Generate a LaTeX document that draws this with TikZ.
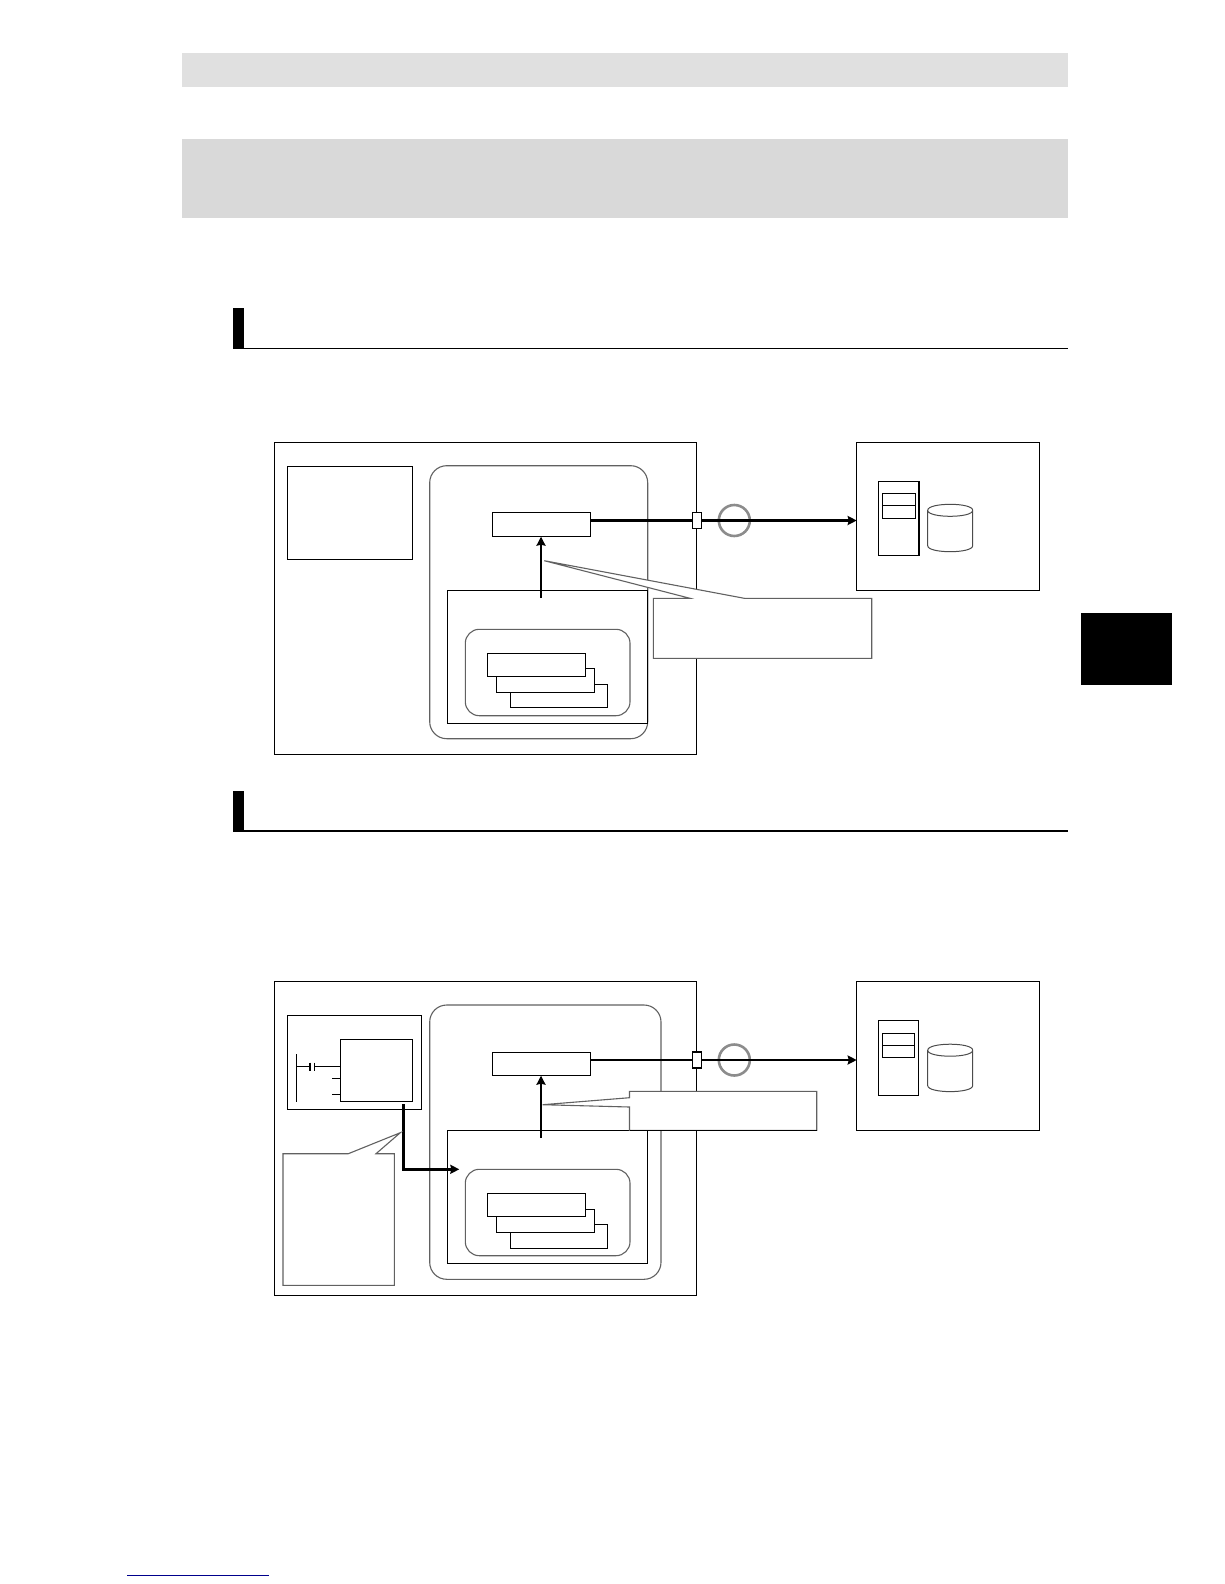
\documentclass[tikz,border=0pt]{standalone}
\usepackage{tikz}
\usetikzlibrary{arrows.meta}

\tikzset{
  plain box/.style={rectangle,draw,fill=white,inner sep=0pt,outer sep=0pt,line width=1.2pt},
  round box/.style={plain box,rounded corners=#1,draw=black!62,line width=1.1pt},
  solid block/.style={rectangle,fill=#1,inner sep=0pt,outer sep=0pt},
  ring/.style={circle,draw=black!45,line width=2.6pt,inner sep=0pt,minimum size=31pt},
  drum/.pic={
    \draw[draw=black!70,fill=white,line width=1pt] (-22.5,-17.7) -- (-22.5,17.7)
      .. controls (-22.5,25.7) and (22.5,25.7) .. (22.5,17.7) -- (22.5,-17.7)
      .. controls (22.5,-25.7) and (-22.5,-25.7) .. (-22.5,-17.7)
      .. controls (-22.5,-9.7) and (22.5,-9.7) .. (22.5,-17.7);
  },
  note/.style={draw=black!62,fill=white,line width=1.1pt,line join=miter},
  wire/.style={line width=1.2pt},
  thick link/.style={line width=2.8pt},
  up link/.style={line width=2.4pt},
  mid link/.style={line width=2pt}
}

\begin{document}
\begin{tikzpicture}[x=1pt,y=-1pt,>={Stealth[length=9pt,width=9pt,inset=1pt]}]
  \useasboundingbox (0,0) rectangle (1224,1584);

  % page furniture
  \node[solid block=black!12, minimum width=886pt, minimum height=34pt] (band) at (625,70) {};
  \node[solid block=black!15, minimum width=886pt, minimum height=79pt] (title) at (625,178.3) {};
  \node[solid block=black, minimum width=91pt, minimum height=72pt] (tab) at (1126.5,649) {};
  \node[solid block=black, minimum width=11pt, minimum height=41pt] (mark1) at (238.5,328.5) {};
  \node[solid block=black, minimum width=11pt, minimum height=41pt] (mark2) at (238.5,811.5) {};
  \coordinate (rule1) at (1068,348.5);
  \coordinate (rule2) at (1068,831);
  \coordinate (link a) at (127,1575);
  \coordinate (link b) at (269,1575);
  \draw[wire] (mark1.south east |- rule1) -- (rule1);
  \draw[mid link] (mark2.south east |- rule2) -- (rule2);
  \draw[color=blue!55!black, line width=1pt] (link a) -- (link b);

  % first picture
  \node[plain box, minimum width=422.4pt, minimum height=311.6pt] (outer1) at (485.5,598.5) {};
  \node[plain box, minimum width=125.4pt, minimum height=93pt] (left1) at (350,512.8) {};
  \node[round box=17pt, minimum width=218pt, minimum height=273pt] (cpu1) at (538.7,602.2) {};
  \node[plain box, minimum width=98.4pt, minimum height=24.4pt] (unit1) at (541.5,524.5) {};
  \node[plain box, minimum width=200pt, minimum height=133.4pt] (inner1) at (547.7,657) {};
  \node[round box=14pt, minimum width=164.7pt, minimum height=86.4pt] (task1) at (547.65,672.5) {};
  \node[plain box, minimum width=97.4pt, minimum height=23.4pt] (stack1c) at (559,696) {};
  \node[plain box, minimum width=98.4pt, minimum height=24.4pt] (stack1b) at (545.5,680.5) {};
  \node[plain box, minimum width=98.4pt, minimum height=23.4pt] (stack1a) at (536.5,665) {};
  \node[plain box, minimum width=182.6pt, minimum height=147.6pt] (ext1) at (948,516.5) {};
  \node[plain box, minimum width=41pt, minimum height=74.4pt] (server1) at (898.8,518.5) {};
  \node[plain box, minimum width=33.4pt, minimum height=12.4pt] (slot1a) at (899,499.5) {};
  \node[plain box, minimum width=33.4pt, minimum height=13pt] (slot1b) at (899,512.2) {};
  \pic (disk1) at (950.2,528) {drum};
  \node[ring] (ring1) at (734.3,520.5) {};
  \node[plain box, minimum width=9.4pt, minimum height=16.4pt] (port1) at (697,520.5) {};
  \coordinate (src1) at (541,598);
  \coordinate (tip1) at (544.3,560.7);

  \draw[mid link] (server1.north east) -- (server1.south east);
  \draw[thick link] (unit1.east |- port1.west) -- (port1.west);
  \draw[thick link,->] (port1.east) -- (ext1.west |- port1.east);
  \draw[up link,->] (src1) -- (src1 |- unit1.south);
  \draw[note] (653.3,598.3) -- (690,598.3) -- (tip1) -- (744.3,598.3) -- (871.7,598.3)
    -- (871.7,658.3) -- (653.3,658.3) -- cycle;

  % second picture
  \node[plain box, minimum width=422.4pt, minimum height=313.6pt] (outer2) at (485.5,1138.5) {};
  \node[plain box, minimum width=134.4pt, minimum height=94.4pt] (left2) at (354.5,1062.5) {};
  \node[plain box, minimum width=72.4pt, minimum height=62.4pt] (block2) at (376.5,1070.5) {};
  \node[round box=17pt, minimum width=231.3pt, minimum height=274.3pt] (cpu2) at (545.35,1142.15) {};
  \node[plain box, minimum width=98.4pt, minimum height=23.4pt] (unit2) at (541.5,1064) {};
  \node[plain box, minimum width=200pt, minimum height=133.4pt] (inner2) at (547.7,1197) {};
  \node[round box=14pt, minimum width=164.7pt, minimum height=86.4pt] (task2) at (547.65,1212.5) {};
  \node[plain box, minimum width=97.4pt, minimum height=24.4pt] (stack2c) at (559,1236.5) {};
  \node[plain box, minimum width=98.4pt, minimum height=23.4pt] (stack2b) at (545.5,1221) {};
  \node[plain box, minimum width=98.4pt, minimum height=23.4pt] (stack2a) at (536.5,1205) {};
  \node[plain box, minimum width=182.6pt, minimum height=148.6pt] (ext2) at (948,1056) {};
  \node[plain box, minimum width=40.4pt, minimum height=75.2pt] (server2) at (898.5,1057.9) {};
  \node[plain box, minimum width=32.4pt, minimum height=12pt] (slot2a) at (898.5,1039.3) {};
  \node[plain box, minimum width=32.4pt, minimum height=12.4pt] (slot2b) at (898.5,1051.5) {};
  \pic (disk2) at (950.2,1067.9) {drum};
  \node[ring] (ring2) at (734.3,1060) {};
  \node[plain box, minimum width=9.4pt, minimum height=16pt] (port2) at (697,1060) {};
  \coordinate (src2) at (541,1138);
  \coordinate (out2) at (403.3,1104);
  \coordinate (in2) at (459.3,1169.3);
  \coordinate (tip2) at (542.7,1104.7);
  \coordinate (tip3) at (400.3,1132.7);

  % ladder
  \coordinate (rail top) at (296.3,1054.3);
  \coordinate (rail end) at (296.3,1102);
  \coordinate (rung) at (296.3,1066.3);
  \coordinate (stub a) at (332,1078.3);
  \coordinate (stub b) at (332,1094.3);
  \draw[wire] (rail top) -- (rail end);
  \draw[wire] (rung) -- (310,1066.3);
  \draw[wire] (310,1062.5) -- (310,1070.5);
  \draw[wire] (314.3,1062.5) -- (314.3,1070.5);
  \draw[wire] (314.3,1066.3) -- (block2.west |- rung);
  \draw[wire] (stub a) -- (block2.west |- stub a);
  \draw[wire] (stub b) -- (block2.west |- stub b);

  \draw[mid link] (unit2.east |- port2.west) -- (port2.west);
  \draw[mid link,->] (port2.east) -- (ext2.west |- port2.east);
  \draw[up link,->] (src2) -- (src2 |- unit2.south);
  \draw[thick link,->] (out2) |- (in2);
  \draw[note] (629.5,1091.3) -- (816.7,1091.3) -- (816.7,1130.3) -- (629.5,1130.3) -- (629.5,1107)
    -- (tip2) -- (629.5,1097.7) -- cycle;
  \draw[wire] (629.5,1130.3) -- (816.7,1130.3);
  \draw[note] (283,1153.7) -- (348.3,1153.7) -- (tip3) -- (376,1153.7) -- (394.3,1153.7)
    -- (394.3,1285.3) -- (283,1285.3) -- cycle;

\end{tikzpicture}
\end{document}
